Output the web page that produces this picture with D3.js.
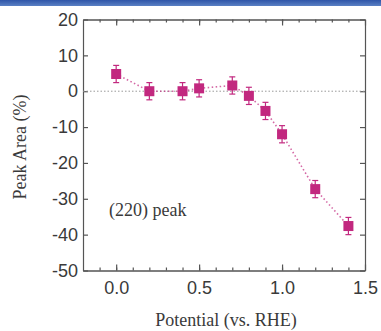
<!DOCTYPE html>
<html lang="en">
<head>
    <meta charset="utf-8">
    <title>Peak Area</title>
    <script src="https://d3js.org/d3.v7.min.js" charset="utf-8"></script>
    <style>
        body { margin: 0; background: #fff; }
        .axis text { font-family: "Liberation Sans", Arial, sans-serif; font-size: 18px; fill: #3a3a3a; }
        .title { font-family: "Liberation Serif", "Times New Roman", serif; font-size: 18px; fill: #3a3a3a; }
    </style>
</head>
<body>
<script>

    var potential = [0.0, 0.2, 0.4, 0.5, 0.7, 0.8, 0.9, 1.0, 1.2, 1.4]
    var peakArea = [4.8, 0.0, 0.0, 0.8, 1.6, -1.3, -5.5, -12.0, -27.3, -37.6]
    var errors = [2.4, 2.4, 2.4, 2.4, 2.4, 2.4, 2.4, 2.4, 2.4, 2.4]
    var xTicks = [0.0, 0.5, 1.0, 1.5]
    var yTicks = [20, 10, 0, -10, -20, -30, -40, -50]

    var w = 381, h = 331
    var padL = 83, padR = 365, padT = 19.5, padB = 270.5
    var color = "#c2287f"

    var svg = d3.select("body").append("svg").attr("width", w).attr("height", h)

    // blue strip at the top
    var grad = svg.append("defs").append("linearGradient").attr("id", "bar").attr("x1", 0).attr("x2", 0).attr("y1", 0).attr("y2", 1)
    grad.append("stop").attr("offset", "0%").attr("stop-color", "#2f55a8")
    grad.append("stop").attr("offset", "100%").attr("stop-color", "#5a80c4")
    svg.append("rect").attr("x", 0).attr("y", 0).attr("width", w).attr("height", 6).attr("fill", "url(#bar)")

    var xScale = d3.scaleLinear().domain([-0.2, 1.5]).range([padL, padR])
    var yScale = d3.scaleLinear().domain([-50, 20]).range([padB, padT])

    var minorX = d3.range(-0.1, 1.45, 0.1).map(function (d) { return Math.round(d * 10) / 10 })

    // bottom axis, ticks pointing in
    svg.append("g").attr("class", "axis").attr("transform", "translate(0," + padB + ")")
        .call(d3.axisBottom(xScale).tickValues(xTicks).tickFormat(d3.format(".1f")).tickSizeInner(-6).tickSizeOuter(0).tickPadding(11))
    svg.append("g").attr("transform", "translate(0," + padB + ")")
        .call(d3.axisBottom(xScale).tickValues(minorX).tickFormat("").tickSizeInner(-3).tickSizeOuter(0))
    // top axis
    svg.append("g").attr("transform", "translate(0," + padT + ")")
        .call(d3.axisTop(xScale).tickValues(xTicks).tickFormat("").tickSizeInner(-6).tickSizeOuter(0))
    svg.append("g").attr("transform", "translate(0," + padT + ")")
        .call(d3.axisTop(xScale).tickValues(minorX).tickFormat("").tickSizeInner(-3).tickSizeOuter(0))

    // left axis (plain hyphen for negatives, as in the original)
    svg.append("g").attr("class", "axis").attr("transform", "translate(" + padL + ",0)")
        .call(d3.axisLeft(yScale).tickValues(yTicks).tickFormat(function (d) { return String(d) })
            .tickSizeInner(-5).tickSizeOuter(0).tickPadding(5))
    // right axis
    svg.append("g").attr("transform", "translate(" + padR + ",0)")
        .call(d3.axisRight(yScale).tickValues(yTicks).tickFormat("").tickSizeInner(-5).tickSizeOuter(0))

    svg.selectAll(".domain, .tick line").attr("stroke", "#555").attr("stroke-width", 1.2)

    // zero line
    svg.append("line").attr("x1", padL).attr("x2", padR).attr("y1", yScale(0)).attr("y2", yScale(0))
        .attr("stroke", "#999").attr("stroke-width", 1).attr("stroke-dasharray", "1.5,2")

    var data = potential.map(function (p, i) { return { x: p, y: peakArea[i], e: errors[i] } })

    var line = d3.line()
        .x(function (d) { return xScale(d.x) })
        .y(function (d) { return yScale(d.y) })

    svg.append("path").datum(data).attr("d", line).attr("fill", "none")
        .attr("stroke", color).attr("stroke-width", 1.6).attr("stroke-dasharray", "1.5,2.5").attr("opacity", 0.7)

    // error bars
    var eb = svg.append("g").selectAll("g").data(data).enter().append("g").attr("stroke", color).attr("stroke-width", 1.2)
    eb.append("line")
        .attr("x1", function (d) { return xScale(d.x) }).attr("x2", function (d) { return xScale(d.x) })
        .attr("y1", function (d) { return yScale(d.y + d.e) }).attr("y2", function (d) { return yScale(d.y - d.e) })
    eb.append("line")
        .attr("x1", function (d) { return xScale(d.x) - 3 }).attr("x2", function (d) { return xScale(d.x) + 3 })
        .attr("y1", function (d) { return yScale(d.y + d.e) }).attr("y2", function (d) { return yScale(d.y + d.e) })
    eb.append("line")
        .attr("x1", function (d) { return xScale(d.x) - 3 }).attr("x2", function (d) { return xScale(d.x) + 3 })
        .attr("y1", function (d) { return yScale(d.y - d.e) }).attr("y2", function (d) { return yScale(d.y - d.e) })

    // square markers
    svg.append("g").selectAll("rect").data(data).enter().append("rect")
        .attr("x", function (d) { return xScale(d.x) - 5 })
        .attr("y", function (d) { return yScale(d.y) - 5 })
        .attr("width", 10).attr("height", 10)
        .attr("fill", color)

    svg.append("text").attr("class", "title").attr("x", 109).attr("y", 216).text("(220) peak")

    svg.append("text").attr("class", "title").attr("text-anchor", "middle")
        .attr("x", (padL + padR) / 2 + 2).attr("y", 326).text("Potential (vs. RHE)")

    svg.append("text").attr("class", "title").attr("text-anchor", "middle")
        .attr("transform", "translate(26," + ((padT + padB) / 2 + 2) + ") rotate(-90)").text("Peak Area (%)")

</script>
</body>
</html>
